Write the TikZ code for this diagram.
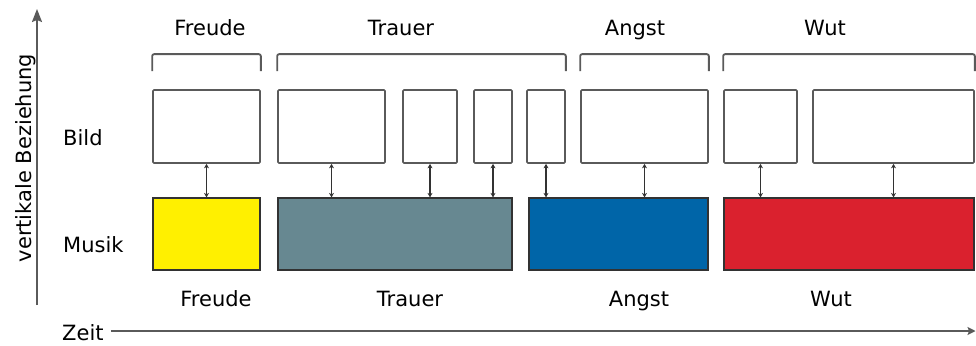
\documentclass[tikz,border=0pt]{standalone}
\usepackage{fontspec}
\setmainfont{DejaVu Sans}
\usetikzlibrary{arrows.meta}
\definecolor{framegray}{RGB}{90,90,90}
\definecolor{darkline}{RGB}{50,50,50}
\definecolor{cyellow}{RGB}{255,240,0}
\definecolor{cteal}{RGB}{103,136,145}
\definecolor{cblue}{RGB}{0,101,168}
\definecolor{cred}{RGB}{218,33,46}
\begin{document}
\begin{tikzpicture}[x=1pt,y=-1pt,
  lbl/.style={font=\fontsize{21}{24}\selectfont, text=black, inner sep=0pt, anchor=base},
  bildbox/.style={draw=framegray, line width=1.7pt, rounded corners=1pt, fill=white, minimum height=73pt, inner sep=0pt},
  musikbox/.style={draw=darkline, line width=1.2pt, minimum height=72pt, inner sep=0pt},
  conn/.style={draw=darkline, line width=1.5pt, {Stealth[length=4.5pt,width=5pt]}-{Stealth[length=4.5pt,width=5pt]}},
  brak/.style={draw=framegray, line width=1.8pt, rounded corners=2pt},
  axis/.style={draw=framegray, line width=1.8pt}
]
\useasboundingbox (0,0) rectangle (976,345);

% Bild boxes
\node[bildbox, minimum width=107pt] (b1) at (206.5,126.5) {};
\node[bildbox, minimum width=107pt] (b2) at (331.5,126.5) {};
\node[bildbox, minimum width=54pt]  (b3) at (430,126.5) {};
\node[bildbox, minimum width=38pt]  (b4) at (493,126.5) {};
\node[bildbox, minimum width=38pt]  (b5) at (546,126.5) {};
\node[bildbox, minimum width=127pt] (b6) at (644.5,126.5) {};
\node[bildbox, minimum width=73pt]  (b7) at (760.5,126.5) {};
\node[bildbox, minimum width=161pt] (b8) at (893.5,126.5) {};

% Musik boxes
\node[musikbox, fill=cyellow, minimum width=107pt] (m1) at (206.5,234) {};
\node[musikbox, fill=cteal,   minimum width=234pt] (m2) at (395,234) {};
\node[musikbox, fill=cblue,   minimum width=179pt] (m3) at (618.5,234) {};
\node[musikbox, fill=cred,    minimum width=250pt] (m4) at (849,234) {};

% connectors
\draw[conn] (b1.south) -- (b1.south |- m1.north);
\draw[conn] (b2.south) -- (b2.south |- m2.north);
\draw[conn] (b3.south) -- (b3.south |- m2.north);
\draw[conn] (b4.south) -- (b4.south |- m2.north);
\draw[conn] (b5.south) -- (b5.south |- m3.north);
\draw[conn] (b6.south) -- (b6.south |- m3.north);
\draw[conn] (b7.south) -- (b7.south |- m4.north);
\draw[conn] (b8.south) -- (b8.south |- m4.north);

% brackets
\draw[brak] ([yshift=18pt]b1.north west) -- ([yshift=35pt]b1.north west) -- ([yshift=35pt]b1.north east) -- ([yshift=18pt]b1.north east);
\draw[brak] ([yshift=18pt]b2.north west) -- ([yshift=35pt]b2.north west) -- ([yshift=35pt]b5.north east) -- ([yshift=18pt]b5.north east);
\draw[brak] ([yshift=18pt]b6.north west) -- ([yshift=35pt]b6.north west) -- ([yshift=35pt]b6.north east) -- ([yshift=18pt]b6.north east);
\draw[brak] ([yshift=18pt]b7.north west) -- ([yshift=35pt]b7.north west) -- ([yshift=35pt]b8.north east) -- ([yshift=18pt]b8.north east);

% top labels
\node[lbl] (tf) at (210,36) {Freude};
\node[lbl] (tt) at (401,36) {Trauer};
\node[lbl] (ta) at (635,36) {Angst};
\node[lbl] (tw) at (825,36) {Wut};

% bottom labels
\node[lbl] (uf) at (216,306) {Freude};
\node[lbl] (ut) at (410,306) {Trauer};
\node[lbl] (ua) at (639,306) {Angst};
\node[lbl] (uw) at (831,306) {Wut};

% row labels
\node[lbl, anchor=base west] (bild) at (63,145) {Bild};
\node[lbl, anchor=base west] (musik) at (63,252) {Musik};

% axes
\coordinate (vbot) at (37,305);
\coordinate (vtop) at (37,9);
\draw[axis, -{Stealth[length=13pt,width=10pt,inset=2pt]}] (vbot) -- (vtop);
\node[lbl, rotate=90] (vb) at (31,158) {vertikale Beziehung};

\node[lbl, anchor=base west] (zeit) at (62,340) {Zeit};
\coordinate (zend) at (975.5,331);
\draw[axis, -{Stealth[length=8pt,width=8pt,inset=1.5pt]}] ([xshift=7pt]zeit.east |- zend) -- (zend);
\end{tikzpicture}
\end{document}
